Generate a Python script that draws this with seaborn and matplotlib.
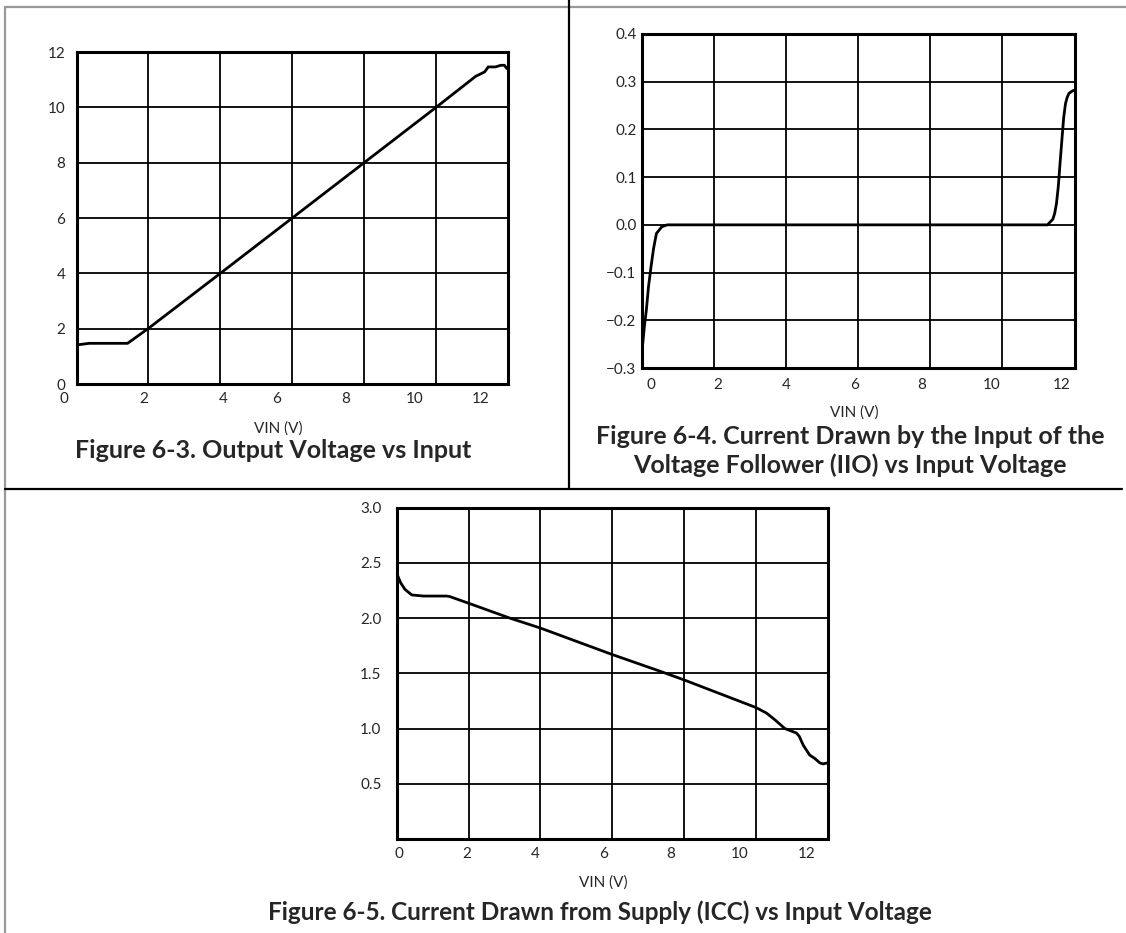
import matplotlib
matplotlib.use("Agg")
import matplotlib.pyplot as plt
import matplotlib.transforms as mtransforms
import seaborn as sns
import pandas as pd
import numpy as np

# Figure 6-3: output voltage vs input
p1_vin = [0.0, 0.35, 1.42, 2.0, 4.0, 6.0, 8.0, 10.0, 11.1, 11.35, 11.45, 11.65, 11.8, 11.9, 11.97]
p1_vout = [1.41, 1.47, 1.47, 2.01, 4.0, 6.0, 8.0, 10.0, 11.12, 11.28, 11.46, 11.46, 11.52, 11.52, 11.4]

# Figure 6-4: input current of voltage follower vs input
p2_vin = [0.0, 0.02, 0.07, 0.12, 0.18, 0.25, 0.32, 0.4, 0.55, 0.7, 11.25, 11.4, 11.45, 11.5, 11.55,
          11.6, 11.65, 11.7, 11.75, 11.8, 11.85, 11.95, 12.0]
p2_iio = [-0.27, -0.249, -0.21, -0.179, -0.13, -0.088, -0.05, -0.018, -0.004, 0.0, 0.0, 0.012, 0.024,
          0.045, 0.08, 0.13, 0.178, 0.225, 0.254, 0.268, 0.276, 0.281, 0.282]

# Figure 6-5: supply current vs input
p3_vin = [0.0, 0.02, 0.11, 0.23, 0.42, 0.74, 1.39, 1.48, 2.0, 3.15, 4.0, 6.0, 7.32, 8.0, 10.0,
          10.29, 10.52, 10.8, 11.12, 11.2, 11.31, 11.49, 11.63, 11.77, 11.86, 12.0]
p3_icc = [2.42, 2.39, 2.32, 2.26, 2.21, 2.20, 2.20, 2.195, 2.135, 2.0, 1.91, 1.67, 1.52, 1.44, 1.19,
          1.14, 1.08, 1.0, 0.96, 0.93, 0.85, 0.76, 0.73, 0.69, 0.68, 0.69]

# x tick labels sit a little off the grid in the original
x_tick_text = ["0", "2", "4", "6", "8", "10", "12"]
p1_xlab_pos = [-0.35, 1.87, 4.08, 5.56, 7.48, 9.40, 11.25]
p2_xlab_pos = [0.25, 2.11, 4.0, 5.9, 7.77, 9.71, 11.63]
p3_xlab_pos = [0.06, 1.96, 3.85, 5.75, 7.62, 9.53, 11.42]

p1_yticks = [0, 2, 4, 6, 8, 10, 12]
p2_yticks = [-0.3, -0.2, -0.1, 0.0, 0.1, 0.2, 0.3, 0.4]
p2_ylabels = ["\u22120.3", "\u22120.2", "\u22120.1", "0.0", "0.1", "0.2", "0.3", "0.4"]
p3_yticks = [0.0, 0.5, 1.0, 1.5, 2.0, 2.5, 3.0]
p3_ylabels = ["", "0.5", "1.0", "1.5", "2.0", "2.5", "3.0"]

title_1 = "Figure 6-3. Output Voltage vs Input"
title_2a = "Figure 6-4. Current Drawn by the Input of the"
title_2b = "Voltage Follower (IIO) vs Input Voltage"
title_3 = "Figure 6-5. Current Drawn from Supply (ICC) vs Input Voltage"

sns.set_theme(style="white")
plt.rcParams["font.family"] = ["Lato", "DejaVu Sans"]

W, H = 1126, 933
fig = plt.figure(figsize=(W / 100, H / 100), dpi=100)
TICK_FS = 11
TITLE_FS = 18


def box(x0, y0, x1, y1):
    return [x0 / W, 1 - y1 / H, (x1 - x0) / W, (y1 - y0) / H]


def fx(x):
    return x / W


def fy(y):
    return 1 - y / H


def draw_panel(rect, vin, vals, yticks, ylabels, ylim, xlab_pos, ypad, xlab_y):
    ax = fig.add_axes(rect)
    df = pd.DataFrame({"vin": vin, "val": vals})
    sns.lineplot(data=df, x="vin", y="val", ax=ax, color="black", linewidth=2.0, sort=False)
    ax.set_xlim(0, 12)
    ax.set_ylim(*ylim)
    ax.set_xticks(np.arange(0, 13, 2))
    ax.set_xticklabels([])
    ax.set_yticks(yticks)
    ax.set_yticklabels(ylabels, fontsize=TICK_FS)
    ax.tick_params(axis="both", length=0)
    ax.tick_params(axis="y", pad=ypad)
    ax.grid(True, color="black", linewidth=1.3)
    for s in ax.spines.values():
        s.set_visible(True)
        s.set_color("black")
        s.set_linewidth(2.2)
    ax.set_xlabel("")
    ax.set_ylabel("")
    trans = mtransforms.blended_transform_factory(ax.transData, fig.transFigure)
    for pos, t in zip(xlab_pos, x_tick_text):
        ax.text(pos, fy(xlab_y), t, transform=trans, ha="center", va="center",
                fontsize=TICK_FS, clip_on=False)
    return ax


draw_panel(box(76.5, 52, 508, 384), p1_vin, p1_vout, p1_yticks, [str(v) for v in p1_yticks],
           (0, 12), p1_xlab_pos, 8, 399)
draw_panel(box(642, 34, 1074.5, 368), p2_vin, p2_iio, p2_yticks, p2_ylabels,
           (-0.3, 0.4), p2_xlab_pos, 4, 385)
draw_panel(box(396.7, 507.7, 828, 839), p3_vin, p3_icc, p3_yticks, p3_ylabels,
           (0, 3), p3_xlab_pos, 11, 854)

# axis labels and captions
fig.text(fx(278), fy(429), "VIN (V)", ha="center", va="center", fontsize=TICK_FS)
fig.text(fx(854), fy(413), "VIN (V)", ha="center", va="center", fontsize=TICK_FS)
fig.text(fx(603), fy(883), "VIN (V)", ha="center", va="center", fontsize=TICK_FS)

fig.text(fx(273), fy(450), title_1, ha="center", va="center", fontsize=TITLE_FS, fontweight="bold")
fig.text(fx(850), fy(437), title_2a, ha="center", va="center", fontsize=TITLE_FS, fontweight="bold")
fig.text(fx(850), fy(465), title_2b, ha="center", va="center", fontsize=TITLE_FS, fontweight="bold")
fig.text(fx(600), fy(912), title_3, ha="center", va="center", fontsize=TITLE_FS - 0.5,
         fontweight="bold")

# page frame lines
frame = fig.add_axes([0, 0, 1, 1], zorder=-1)
frame.set_xlim(0, W)
frame.set_ylim(H, 0)
frame.axis("off")
frame.plot([5, 5], [7, H], color="#999999", linewidth=1.6)
frame.plot([5, W], [7, 7], color="#999999", linewidth=1.6)
frame.plot([568.5, 568.5], [0, 489], color="black", linewidth=1.6)
frame.plot([5, 1122], [489, 489], color="black", linewidth=1.6)

fig.savefig("out.png", dpi=100)
